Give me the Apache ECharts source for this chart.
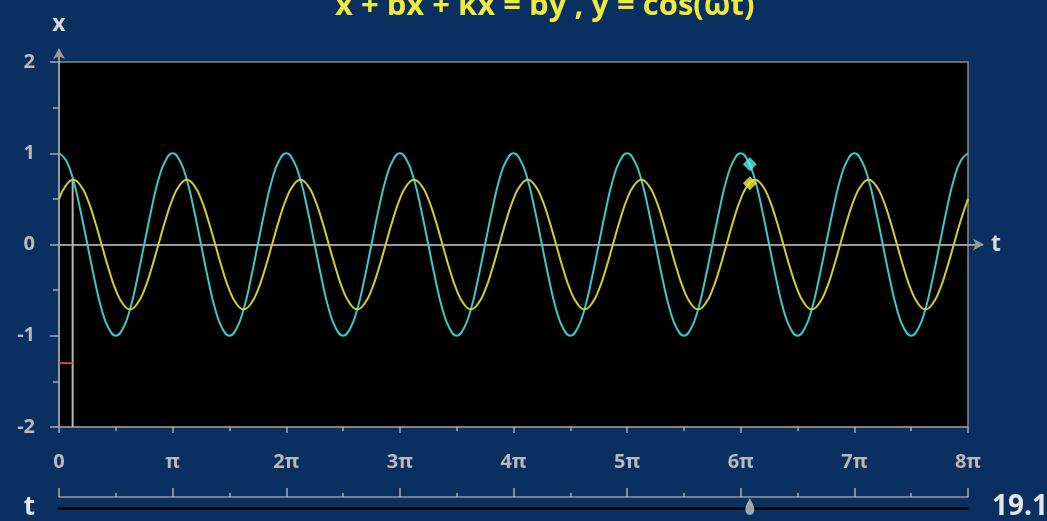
<!DOCTYPE html>
<html>
<head>
<meta charset="utf-8">
<script src="https://cdn.jsdelivr.net/npm/echarts@6/dist/echarts.min.js"></script>
<style>
html,body{margin:0;padding:0;background:#0a3062;}
#c{width:1047px;height:521px;}
</style>
</head>
<body>
<div id="c"></div>
<script>
// ---- data (t measured in units of π) ----
const tStepPi = 1 / 16;
const xTickLabels = ['0', 'π', '2π', '3π', '4π', '5π', '6π', '7π', '8π'];
const yTickValues = [-2, -1, 0, 1, 2];
// input y = cos(ωt), sampled every π/16
const inputY = [
  1, 0.92, 0.71, 0.38, 0, -0.38, -0.71, -0.92, -1, -0.92, -0.71, -0.38, 0, 0.38, 0.71, 0.92,
  1, 0.92, 0.71, 0.38, 0, -0.38, -0.71, -0.92, -1, -0.92, -0.71, -0.38, 0, 0.38, 0.71, 0.92,
  1, 0.92, 0.71, 0.38, 0, -0.38, -0.71, -0.92, -1, -0.92, -0.71, -0.38, 0, 0.38, 0.71, 0.92,
  1, 0.92, 0.71, 0.38, 0, -0.38, -0.71, -0.92, -1, -0.92, -0.71, -0.38, 0, 0.38, 0.71, 0.92,
  1, 0.92, 0.71, 0.38, 0, -0.38, -0.71, -0.92, -1, -0.92, -0.71, -0.38, 0, 0.38, 0.71, 0.92,
  1, 0.92, 0.71, 0.38, 0, -0.38, -0.71, -0.92, -1, -0.92, -0.71, -0.38, 0, 0.38, 0.71, 0.92,
  1, 0.92, 0.71, 0.38, 0, -0.38, -0.71, -0.92, -1, -0.92, -0.71, -0.38, 0, 0.38, 0.71, 0.92,
  1, 0.92, 0.71, 0.38, 0, -0.38, -0.71, -0.92, -1, -0.92, -0.71, -0.38, 0, 0.38, 0.71, 0.92,
  1
];
// response x(t), sampled every π/16
const responseX = [
  0.5, 0.65, 0.71, 0.65, 0.5, 0.27, 0, -0.27, -0.5, -0.65, -0.71, -0.65, -0.5, -0.27, 0, 0.27,
  0.5, 0.65, 0.71, 0.65, 0.5, 0.27, 0, -0.27, -0.5, -0.65, -0.71, -0.65, -0.5, -0.27, 0, 0.27,
  0.5, 0.65, 0.71, 0.65, 0.5, 0.27, 0, -0.27, -0.5, -0.65, -0.71, -0.65, -0.5, -0.27, 0, 0.27,
  0.5, 0.65, 0.71, 0.65, 0.5, 0.27, 0, -0.27, -0.5, -0.65, -0.71, -0.65, -0.5, -0.27, 0, 0.27,
  0.5, 0.65, 0.71, 0.65, 0.5, 0.27, 0, -0.27, -0.5, -0.65, -0.71, -0.65, -0.5, -0.27, 0, 0.27,
  0.5, 0.65, 0.71, 0.65, 0.5, 0.27, 0, -0.27, -0.5, -0.65, -0.71, -0.65, -0.5, -0.27, 0, 0.27,
  0.5, 0.65, 0.71, 0.65, 0.5, 0.27, 0, -0.27, -0.5, -0.65, -0.71, -0.65, -0.5, -0.27, 0, 0.27,
  0.5, 0.65, 0.71, 0.65, 0.5, 0.27, 0, -0.27, -0.5, -0.65, -0.71, -0.65, -0.5, -0.27, 0, 0.27,
  0.5
];
const currentT = 19.1;          // slider value
const currentInput = 0.88;      // cyan marker
const currentResponse = 0.67;   // yellow marker
const lagTPi = 0.12;            // vertical indicator position (units of π)
const lagTop = 0.71;
const redLevel = -1.3;

const tPi = currentT / Math.PI;
const inputData = inputY.map((v, i) => [i * tStepPi, v]);
const responseData = responseX.map((v, i) => [i * tStepPi, v]);

const FONT = '"Open Sans", "Noto Sans", sans-serif';
const GRAY = '#a8a8a8';
const LABEL = '#b9b9b9';

const chart = echarts.init(document.getElementById('c'), null, {renderer: 'canvas'});
chart.setOption({
  backgroundColor: '#0a3062',
  animation: false,
  title: [
    {
      text: 'ẍ + bẋ + kx = bẏ , y = cos(ωt)',
      left: 330, top: -14,
      textStyle: {color: '#f0ea3c', fontFamily: FONT, fontWeight: 'bold', fontSize: 31}
    },
    {
      text: currentT.toFixed(1),
      left: 992, top: 493, padding: 0,
      textStyle: {color: '#e6e6e6', fontFamily: FONT, fontWeight: 'bold', fontSize: 28}
    }
  ],
  grid: [
    {left: 59, right: 79, top: 62, bottom: 94, show: true, backgroundColor: '#000', borderColor: '#8a8a8a', borderWidth: 1.5},
    {left: 59, right: 65, top: 50, bottom: 94},
    {left: 59, right: 79, top: 490, height: 10}
  ],
  xAxis: [
    { // bottom tick/label axis
      gridIndex: 0, type: 'value', min: 0, max: 8, interval: 1, position: 'bottom',
      axisLine: {onZero: false, lineStyle: {color: '#8a8a8a', width: 1.5}},
      axisTick: {length: 6, lineStyle: {color: GRAY, width: 1.5}},
      minorTick: {show: true, splitNumber: 2, length: 4, lineStyle: {color: GRAY, width: 1.5}},
      splitLine: {show: false},
      axisLabel: {margin: 25, color: LABEL, fontFamily: FONT, fontWeight: 'bold', fontSize: 20,
        formatter: v => xTickLabels[Math.round(v)] || ''}
    },
    { // zero line with arrow
      gridIndex: 1, type: 'value', min: 0, max: 8,
      axisLine: {onZero: true, symbol: ['none', 'arrow'], symbolSize: [9, 11], symbolOffset: [0, 2],
        lineStyle: {color: '#9a9a9a', width: 2}},
      axisTick: {show: false}, axisLabel: {show: false}, splitLine: {show: false},
      name: 't', nameLocation: 'end', nameGap: 9,
      nameTextStyle: {color: '#d8d8d8', fontFamily: FONT, fontWeight: 'bold', fontSize: 23, padding: [0, 0, 3, 0]}
    },
    { // slider track
      gridIndex: 2, type: 'value', min: 0, max: 8, interval: 1, position: 'bottom',
      axisLine: {onZero: false, lineStyle: {color: '#9a9a9a', width: 1.5}},
      axisTick: {inside: true, length: 9, lineStyle: {color: GRAY, width: 1.5}},
      minorTick: {show: true, splitNumber: 2, length: 4, lineStyle: {color: GRAY, width: 1.5}},
      axisLabel: {show: false}, splitLine: {show: false}
    },
    { // slider black rail
      gridIndex: 2, type: 'value', min: 0, max: 8, position: 'bottom', offset: 11,
      axisLine: {onZero: false, lineStyle: {color: '#000', width: 2.5}},
      axisTick: {show: false}, axisLabel: {show: false}, splitLine: {show: false},
      name: 't', nameLocation: 'start', nameGap: 24,
      nameTextStyle: {color: '#e6e6e6', fontFamily: FONT, fontWeight: 'bold', fontSize: 26, padding: [0, 0, 8, 0]}
    }
  ],
  yAxis: [
    {
      gridIndex: 0, type: 'value', min: -2, max: 2, interval: 1,
      axisLine: {show: false},
      axisTick: {length: 9, lineStyle: {color: GRAY, width: 1.5}},
      minorTick: {show: true, splitNumber: 2, length: 6, lineStyle: {color: GRAY, width: 1.5}},
      splitLine: {show: false},
      axisLabel: {margin: 24, color: LABEL, fontFamily: FONT, fontWeight: 'bold', fontSize: 20,
        formatter: v => (yTickValues.indexOf(v) >= 0 ? String(v) : '')}
    },
    {
      gridIndex: 1, type: 'value', min: -2, max: 2.1315,
      axisLine: {onZero: false, symbol: ['none', 'arrow'], symbolSize: [9, 11], symbolOffset: [0, 2],
        lineStyle: {color: '#9a9a9a', width: 2}},
      axisTick: {show: false}, axisLabel: {show: false}, splitLine: {show: false},
      name: 'x', nameLocation: 'end', nameGap: 14,
      nameTextStyle: {color: '#d8d8d8', fontFamily: FONT, fontWeight: 'bold', fontSize: 23}
    },
    {gridIndex: 2, type: 'value', min: 0, max: 1, show: false}
  ],
  series: [
    {
      type: 'line', xAxisIndex: 0, yAxisIndex: 0, data: [[lagTPi, -2], [lagTPi, lagTop]],
      symbol: 'none', lineStyle: {color: '#b8b8b8', width: 2}, z: 1
    },
    {
      type: 'line', xAxisIndex: 0, yAxisIndex: 0, data: [[0, redLevel], [lagTPi, redLevel]],
      symbol: 'none', lineStyle: {color: '#d04848', width: 2}, z: 1
    },
    {
      name: 'y', type: 'line', xAxisIndex: 0, yAxisIndex: 0, data: inputData, smooth: true,
      symbol: 'none', lineStyle: {color: '#3cc8c8', width: 2}, z: 3
    },
    {
      name: 'x', type: 'line', xAxisIndex: 0, yAxisIndex: 0, data: responseData, smooth: true,
      symbol: 'none', lineStyle: {color: '#d2cc2e', width: 2}, z: 3
    },
    {
      type: 'scatter', xAxisIndex: 0, yAxisIndex: 0, data: [[tPi, currentInput]],
      symbol: 'diamond', symbolSize: 14, itemStyle: {color: '#5ef0f4'}, z: 5
    },
    {
      type: 'scatter', xAxisIndex: 0, yAxisIndex: 0, data: [[tPi, currentResponse]],
      symbol: 'diamond', symbolSize: 14, itemStyle: {color: '#f4f040'}, z: 5
    },
    {
      type: 'scatter', xAxisIndex: 2, yAxisIndex: 2, data: [[tPi, -1.35]], clip: false,
      symbol: 'path://M5,0 C6,3 10,8 10,13 C10,17 8,19 5,19 C2,19 0,17 0,13 C0,8 4,3 5,0 Z',
      symbolSize: [9, 17], itemStyle: {color: '#c8c8c8'}, z: 5
    }
  ]
});
</script>
</body>
</html>
